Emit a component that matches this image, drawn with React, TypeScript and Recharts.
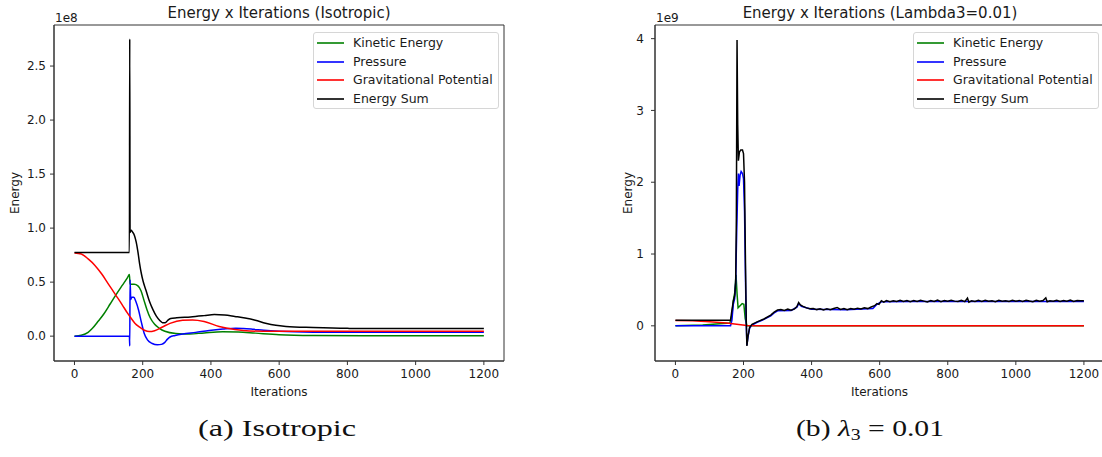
import React from 'react';
import { LineChart, Line, XAxis, YAxis, Legend, ReferenceArea } from 'recharts';

type Pt = [number, number];

// ---------- shared labels / ticks ----------
const seriesNames = ['Kinetic Energy', 'Pressure', 'Gravitational Potential', 'Energy Sum'];
const seriesColors = ['#008000', '#0000ff', '#ff0000', '#000000'];
const xTicks = [0, 200, 400, 600, 800, 1000, 1200];
const xDomain: [number, number] = [-60, 1259];
const isoYTicks = [0, 0.5, 1.0, 1.5, 2.0, 2.5];
const lamYTicks = [0, 1, 2, 3, 4];
const isoTitle = 'Energy x Iterations (Isotropic)';
const lamTitle = 'Energy x Iterations (Lambda3=0.01)';

// ---------- (a) Isotropic, values in 1e8 ----------
const isoKinetic: Pt[] = [
  [0, 0], [20, 0.008], [40, 0.035], [52, 0.07], [70, 0.14], [87, 0.21], [105, 0.3], [121, 0.38],
  [140, 0.47], [155, 0.54], [161, 0.57], [163, 0.48], [175, 0.48], [186, 0.465], [195, 0.42],
  [203, 0.34], [212, 0.25], [222, 0.17], [235, 0.11], [248, 0.075], [265, 0.045], [297, 0.025],
  [337, 0.02], [380, 0.03], [434, 0.04], [480, 0.038], [530, 0.028], [600, 0.014], [700, 0.006],
  [850, 0.003], [1200, 0.003],
];
const isoPressure: Pt[] = [
  [0, 0], [161, 0], [162, -0.09], [163, 0.52], [165, 0.34], [168, 0.36], [174, 0.36], [180, 0.32],
  [188, 0.24], [196, 0.13], [204, 0.03], [214, -0.035], [228, -0.068], [243, -0.08], [255, -0.076],
  [264, -0.06], [272, -0.03], [280, -0.008], [295, 0.006], [317, 0.02], [355, 0.035], [395, 0.053],
  [435, 0.066], [473, 0.074], [495, 0.071], [525, 0.063], [555, 0.054], [600, 0.045], [700, 0.037],
  [850, 0.035], [1200, 0.035],
];
const isoGravity: Pt[] = [
  [0, 0.77], [20, 0.76], [40, 0.715], [60, 0.655], [80, 0.575], [100, 0.48], [120, 0.385],
  [140, 0.29], [155, 0.215], [165, 0.17], [177, 0.12], [190, 0.085], [205, 0.055], [219, 0.042],
  [235, 0.05], [258, 0.085], [280, 0.118], [317, 0.147], [346, 0.15], [380, 0.136], [424, 0.09],
  [470, 0.062], [512, 0.048], [580, 0.045], [1200, 0.045],
];
const isoSum: Pt[] = [
  [0, 0.775], [161, 0.775], [162, 2.75], [163, 0.96], [166, 0.98], [170, 0.965], [176, 0.93],
  [181, 0.87], [186, 0.78], [191, 0.67], [196, 0.58], [201, 0.51], [210, 0.42], [220, 0.32],
  [230, 0.245], [240, 0.185], [250, 0.145], [258, 0.125], [266, 0.125], [273, 0.145], [282, 0.163],
  [300, 0.17], [340, 0.178], [380, 0.19], [410, 0.2], [440, 0.195], [470, 0.182], [500, 0.168],
  [530, 0.148], [560, 0.12], [590, 0.1], [620, 0.09], [700, 0.08], [800, 0.072], [900, 0.07],
  [1200, 0.07],
];

// ---------- (b) Lambda3 = 0.01, values in 1e9 ----------
const lamKinetic: Pt[] = [
  [0, 0], [80, 0.01], [160, 0.04], [166, 0.15], [170, 0.35], [174, 0.45], [178, 0.71], [181, 0.45],
  [184, 0.25], [190, 0.28], [196, 0.31], [201, 0.3], [205, 0.1], [210, 0], [1200, 0],
];
const lamPressure: Pt[] = [
  [0, 0], [162, 0], [166, 0.08], [170, 0.3], [174, 0.38], [177, 0.6], [180, 1.3], [183, 1.9],
  [185, 2.12], [187, 1.95], [190, 2.1], [193, 2.15], [197, 2.12], [200, 2.05], [203, 1.6],
  [206, 0.6], [208, 0.05], [210, -0.27], [213, -0.16], [218, -0.03], [225, 0.01], [240, 0.05],
  [260, 0.09], [280, 0.14], [290, 0.18], [300, 0.21], [340, 0.215], [357, 0.26], [362, 0.31],
  [370, 0.27], [400, 0.23], [500, 0.225], [580, 0.24], [592, 0.3], [605, 0.335], [700, 0.34],
  [1200, 0.34],
];
const lamGravity: Pt[] = [
  [0, 0.075], [50, 0.07], [100, 0.057], [150, 0.038], [180, 0.022], [210, 0.006], [250, 0], [1200, 0],
];
const lamSum: Pt[] = [
  [0, 0.078], [162, 0.078], [166, 0.22], [170, 0.34], [174, 0.42], [177, 0.6], [179, 1.5],
  [181, 3.98], [183, 2.8], [185, 2.3], [188, 2.42], [192, 2.45], [197, 2.45], [200, 2.4],
  [203, 2.0], [206, 0.8], [208, 0.1], [210, -0.28], [213, -0.15], [218, -0.02], [225, 0.02],
  [240, 0.055], [260, 0.095], [280, 0.15], [290, 0.19], [300, 0.22], [310, 0.228], [320, 0.214],
  [330, 0.232], [340, 0.218], [350, 0.236], [357, 0.27], [362, 0.325], [367, 0.29], [375, 0.27],
  [385, 0.25], [395, 0.238], [405, 0.242], [415, 0.226], [425, 0.238], [435, 0.22], [445, 0.236],
  [455, 0.224], [465, 0.242], [475, 0.256], [485, 0.228], [495, 0.242], [505, 0.226], [515, 0.24],
  [525, 0.23], [535, 0.246], [545, 0.234], [555, 0.25], [565, 0.24], [575, 0.262], [585, 0.28],
  [592, 0.31], [598, 0.298], [605, 0.35], [612, 0.33], [620, 0.352], [630, 0.336], [640, 0.348],
  [650, 0.338], [660, 0.356], [670, 0.34], [680, 0.352], [690, 0.336], [700, 0.352], [710, 0.34],
  [720, 0.356], [730, 0.344], [740, 0.332], [750, 0.352], [760, 0.34], [770, 0.36], [780, 0.336],
  [790, 0.352], [800, 0.342], [810, 0.356], [820, 0.344], [830, 0.338], [840, 0.356], [850, 0.336],
  [858, 0.385], [862, 0.33], [870, 0.348], [880, 0.34], [890, 0.354], [900, 0.34], [910, 0.356],
  [920, 0.342], [930, 0.35], [940, 0.336], [950, 0.356], [960, 0.344], [970, 0.35], [980, 0.338],
  [990, 0.356], [1000, 0.342], [1010, 0.354], [1020, 0.34], [1030, 0.356], [1040, 0.345],
  [1050, 0.336], [1060, 0.356], [1070, 0.342], [1080, 0.352], [1088, 0.39], [1092, 0.335],
  [1100, 0.35], [1110, 0.342], [1120, 0.356], [1130, 0.34], [1140, 0.352], [1150, 0.344],
  [1160, 0.358], [1170, 0.34], [1180, 0.352], [1190, 0.348], [1200, 0.35],
];

const toRows = (pts: Pt[]) => pts.map(([x, y]) => ({ x, y }));

const FONT = '"DejaVu Sans", sans-serif';
const SERIF = '"Liberation Serif", serif';
const tickStyle = { fill: '#1a1a1a', fontSize: 12, fontFamily: FONT };

const LegendBox = () => (
  <div
    style={{
      boxSizing: 'border-box',
      width: '100%',
      height: '100%',
      border: '1px solid #d6d6d6',
      borderRadius: 3,
      background: 'rgba(255,255,255,0.8)',
      padding: '1px 0 0 3px',
      fontFamily: FONT,
      fontSize: 12.5,
      color: '#1a1a1a',
    }}
  >
    {seriesNames.map((n, i) => (
      <div key={n} style={{ display: 'flex', alignItems: 'center', height: 18.5 }}>
        <svg width={27} height={4} style={{ display: 'block' }}>
          <line x1={0} y1={2} x2={27} y2={2} stroke={seriesColors[i]} strokeWidth={1.6} />
        </svg>
        <span style={{ marginLeft: 9, whiteSpace: 'nowrap', lineHeight: '18.5px' }}>{n}</span>
      </div>
    ))}
  </div>
);

const YLabel = (props: any) => {
  const vb = props.viewBox || { x: 0, y: 0, height: 0 };
  const cx = vb.x + props.dx;
  const cy = vb.y + vb.height / 2;
  return (
    <text
      x={cx}
      y={cy}
      transform={`rotate(-90 ${cx} ${cy})`}
      textAnchor="middle"
      dominantBaseline="central"
      fontFamily={FONT}
      fontSize={12}
      fill="#1a1a1a"
    >
      Energy
    </text>
  );
};

const XLabel = (props: any) => {
  const vb = props.viewBox || { x: 0, y: 0, width: 0 };
  return (
    <text
      x={vb.x + vb.width / 2}
      y={vb.y + 31}
      textAnchor="middle"
      dominantBaseline="central"
      fontFamily={FONT}
      fontSize={12}
      fill="#1a1a1a"
    >
      Iterations
    </text>
  );
};

type PanelProps = {
  width: number;
  rightMargin: number;
  yAxisWidth: number;
  yLabelDx: number;
  yDomain: [number, number];
  yTicks: number[];
  yFmt: (v: number) => string;
  series: Pt[][];
  curve: 'monotone' | 'linear';
  tickMarginY: number;
};

const Panel = ({ width, rightMargin, yAxisWidth, yLabelDx, yDomain, yTicks, yFmt, series, curve, tickMarginY }: PanelProps) => (
  <LineChart width={width} height={410} margin={{ top: 25, right: rightMargin, bottom: 9, left: 0 }}>
    <XAxis
      dataKey="x"
      type="number"
      domain={xDomain}
      ticks={xTicks}
      allowDataOverflow
      height={40}
      stroke="#333"
      tick={tickStyle}
      tickSize={4}
      tickMargin={4}
      label={<XLabel />}
    />
    <YAxis
      type="number"
      domain={yDomain}
      ticks={yTicks}
      allowDataOverflow
      width={yAxisWidth}
      stroke="#333"
      tick={tickStyle}
      tickSize={4}
      tickMargin={tickMarginY}
      tickFormatter={yFmt}
      label={<YLabel dx={yLabelDx} />}
    />
    <ReferenceArea
      x1={xDomain[0]}
      x2={xDomain[1]}
      y1={yDomain[0]}
      y2={yDomain[1]}
      fill="none"
      fillOpacity={0}
      stroke="#333"
      strokeWidth={1}
      ifOverflow="visible"
    />
    {series.map((pts, i) => (
      <Line
        key={seriesNames[i]}
        name={seriesNames[i]}
        data={toRows(pts)}
        dataKey="y"
        type={curve}
        stroke={seriesColors[i]}
        strokeWidth={1.5}
        dot={false}
        activeDot={false}
        isAnimationActive={false}
      />
    ))}
    <Legend
      layout="horizontal"
      verticalAlign="middle"
      align="center"
      wrapperStyle={{ position: 'absolute', left: 313, top: 32, width: 186, height: 77 }}
      content={() => <LegendBox />}
    />
  </LineChart>
);

export default function App() {
  return (
    <div style={{ position: 'absolute', left: 0, top: 0, width: 1102, height: 457, overflow: 'hidden', background: '#fff' }}>
      <div style={{ position: 'absolute', left: 0, top: 0, width: 560, height: 410 }}>
        <Panel
          width={560}
          rightMargin={56}
          yAxisWidth={54}
          yLabelDx={15}
          yDomain={[-0.23, 2.88]}
          yTicks={isoYTicks}
          yFmt={(v) => v.toFixed(1)}
          series={[isoKinetic, isoPressure, isoGravity, isoSum]}
          curve="monotone"
          tickMarginY={4}
        />
      </div>
      <div style={{ position: 'absolute', left: 600, top: 0, width: 502, height: 410, overflow: 'hidden' }}>
        <Panel
          width={510}
          rightMargin={6}
          yAxisWidth={55}
          yLabelDx={28}
          yDomain={[-0.49, 4.19]}
          yTicks={lamYTicks}
          yFmt={(v) => String(v)}
          series={[lamKinetic, lamPressure, lamGravity, lamSum]}
          curve="linear"
          tickMarginY={7}
        />
      </div>
      <svg width={1102} height={457} style={{ position: 'absolute', left: 0, top: 0, pointerEvents: 'none' }}>
        <text x={279} y={18.3} textAnchor="middle" fontFamily={FONT} fontSize={15} fill="#1a1a1a">{isoTitle}</text>
        <text x={880} y={18.3} textAnchor="middle" fontFamily={FONT} fontSize={15} fill="#1a1a1a">{lamTitle}</text>
        <text x={55} y={22} fontFamily={FONT} fontSize={12} fill="#1a1a1a">1e8</text>
        <text x={656} y={22} fontFamily={FONT} fontSize={12} fill="#1a1a1a">1e9</text>
        <text x={277} y={436} textAnchor="middle" fontFamily={SERIF} fontSize={24} fill="#111" textLength={158} lengthAdjust="spacingAndGlyphs">(a) Isotropic</text>
        <text x={870} y={436} textAnchor="middle" fontFamily={SERIF} fontSize={24} fill="#111" textLength={148} lengthAdjust="spacingAndGlyphs">
          (b) <tspan fontStyle="italic">λ</tspan>
          <tspan fontSize={16} dy={4}>3</tspan>
          <tspan dy={-4}> = 0.01</tspan>
        </text>
      </svg>
    </div>
  );
}
